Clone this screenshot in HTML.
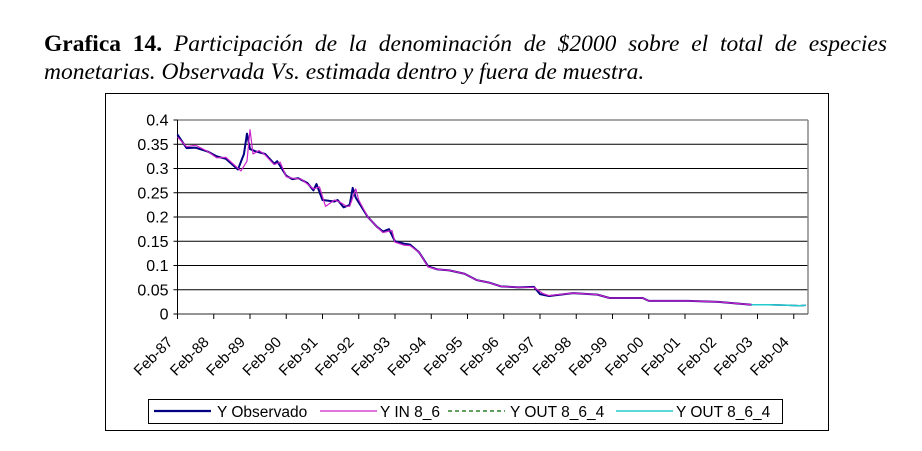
<!DOCTYPE html>
<html><head><meta charset="utf-8"><style>
body{margin:0;background:#fff;width:922px;height:451px;overflow:hidden;position:relative}
.title{position:absolute;left:44px;top:30px;width:843px;font-family:"Liberation Serif",serif;font-size:23.5px;line-height:28px;text-align:justify;text-align-last:left;font-style:italic;color:#000}
.title b{font-style:normal}
svg{position:absolute;left:0;top:0}
text{font-family:"Liberation Sans",sans-serif;fill:#000}
</style></head><body>
<div class="title"><b>Grafica 14.</b> Participación de la denominación de $2000 sobre el total de especies monetarias. Observada Vs. estimada dentro y fuera de muestra.</div>
<svg width="922" height="451">
<rect x="105.5" y="93.5" width="723" height="337" fill="none" stroke="#000"/>
<g id="grid"></g><g id="axes"></g><g id="series"></g>
<g>
<rect x="148.5" y="399.5" width="634" height="24" fill="#fff" stroke="#000"/>
<line x1="154" y1="411" x2="211" y2="411" stroke="#000080" stroke-width="2.2"/>
<text x="217" y="417" font-size="15.5">Y Observado</text>
<line x1="320" y1="411" x2="377" y2="411" stroke="#cc22cc" stroke-width="1.3"/>
<text x="380" y="417" font-size="15.5">Y IN 8_6</text>
<line x1="448" y1="411" x2="505" y2="411" stroke="#006600" stroke-width="1.3" stroke-dasharray="4,3"/>
<text x="510" y="417" font-size="15.5">Y OUT 8_6_4</text>
<line x1="616" y1="411" x2="673" y2="411" stroke="#22cccc" stroke-width="1.5"/>
<text x="676" y="417" font-size="15.5">Y OUT 8_6_4</text>
</g>
</svg>
<script>
const yTicks=[0,0.05,0.1,0.15,0.2,0.25,0.3,0.35,0.4];
const yTickLabels=["0","0.05","0.1","0.15","0.2","0.25","0.3","0.35","0.4"];
const xTickLabels=["Feb-87","Feb-88","Feb-89","Feb-90","Feb-91","Feb-92","Feb-93","Feb-94","Feb-95","Feb-96","Feb-97","Feb-98","Feb-99","Feb-00","Feb-01","Feb-02","Feb-03","Feb-04"];
const obsMonths=[0,3,6,10,13,16,20,22,23,24,26,29,32,33,36,38,40,43,45,46,48,52,53,55,57,58,59,63,66,68,70,72,75,77,80,83,86,90,95,99,103,107,113,118,120,123,131,139,143,154,156,169,179,190];
const obsValues=[0.37,0.342,0.343,0.335,0.325,0.32,0.298,0.33,0.372,0.34,0.335,0.33,0.31,0.315,0.285,0.278,0.28,0.27,0.255,0.268,0.235,0.232,0.235,0.22,0.225,0.26,0.24,0.2,0.18,0.17,0.175,0.15,0.145,0.143,0.127,0.098,0.092,0.09,0.083,0.07,0.065,0.057,0.055,0.056,0.041,0.037,0.043,0.04,0.033,0.033,0.027,0.027,0.025,0.019];
const inMonths=[0,3,6,10,13,16,21,23,24,25,27,29,32,34,36,38,41,43,45,47,49,52,54,56,57,59,60,63,66,68,71,72,75,77,80,83,86,90,95,99,103,107,113,118,121,123,131,139,143,154,156,169,179,190];
const inValues=[0.365,0.345,0.348,0.335,0.322,0.323,0.295,0.315,0.38,0.33,0.337,0.328,0.308,0.313,0.283,0.28,0.278,0.268,0.258,0.262,0.222,0.235,0.23,0.222,0.222,0.258,0.235,0.2,0.18,0.168,0.172,0.148,0.142,0.141,0.127,0.097,0.092,0.09,0.083,0.07,0.065,0.057,0.055,0.055,0.042,0.038,0.043,0.04,0.033,0.033,0.027,0.027,0.025,0.019];
const outMonths=[190,196,202,206,208];
const outValues=[0.019,0.019,0.018,0.017,0.018];
const X0=177.5,PX=36.25/12,Y0=314,YS=194/0.4,XR=808;
const xs=m=>X0+m*PX, ys=v=>Y0-v*YS;
const NS="http://www.w3.org/2000/svg";
function mk(p,t,a){const e=document.createElementNS(NS,t);for(const k in a)e.setAttribute(k,a[k]);p.appendChild(e);return e;}
const grid=document.getElementById('grid'),axes=document.getElementById('axes'),ser=document.getElementById('series');
yTicks.forEach((v,i)=>{
 if(v>0){const g=mk(grid,'line',{x1:X0,x2:XR,y1:ys(v),y2:ys(v),stroke:i==yTicks.length-1?'#888':'#000','stroke-width':i==yTicks.length-1?1.5:1});
 
 }
 mk(axes,'line',{x1:X0-4,x2:X0,y1:ys(v),y2:ys(v),stroke:'#000'});
 const t=mk(axes,'text',{x:X0-9,y:ys(v)+5.5,'font-size':16,'text-anchor':'end'});t.textContent=yTickLabels[i];
 
 
});
mk(axes,'line',{x1:XR,x2:XR,y1:ys(0.4),y2:Y0,stroke:'#888','stroke-width':1.5});
mk(axes,'line',{x1:X0,x2:X0,y1:ys(0.4),y2:Y0,stroke:'#000'});
mk(axes,'line',{x1:X0,x2:XR,y1:Y0,y2:Y0,stroke:'#555','stroke-width':1.3});
xTickLabels.forEach((l,i)=>{
 const x=xs(i*12);
 mk(axes,'line',{x1:x,x2:x,y1:Y0,y2:Y0+5,stroke:'#000'});
 const t=mk(axes,'text',{x:x-4,y:Y0+29,'font-size':15,'text-anchor':'end',transform:`rotate(-45 ${x-4} ${Y0+29})`});t.textContent=l;
 
 
});
function line(ms,vs,col,w,name,dash){
 const p=mk(ser,'polyline',{points:ms.map((m,i)=>xs(m)+','+ys(vs[i])).join(' '),fill:'none',stroke:col,'stroke-width':w,'stroke-linejoin':'round'});
 if(dash)p.setAttribute('stroke-dasharray',dash);
 
 
}
line(obsMonths,obsValues,'#000080',2,'series-observado');
line(inMonths,inValues,'#cc22cc',1.2,'series-in-sample');
line(outMonths,outValues,'#000080',1.5,'series-observado-out');
line(outMonths,outValues,'#006600',1,'series-out-dashed','4,3');
line(outMonths,outValues,'#22cccc',1.5,'series-out');
</script>
</body></html>
